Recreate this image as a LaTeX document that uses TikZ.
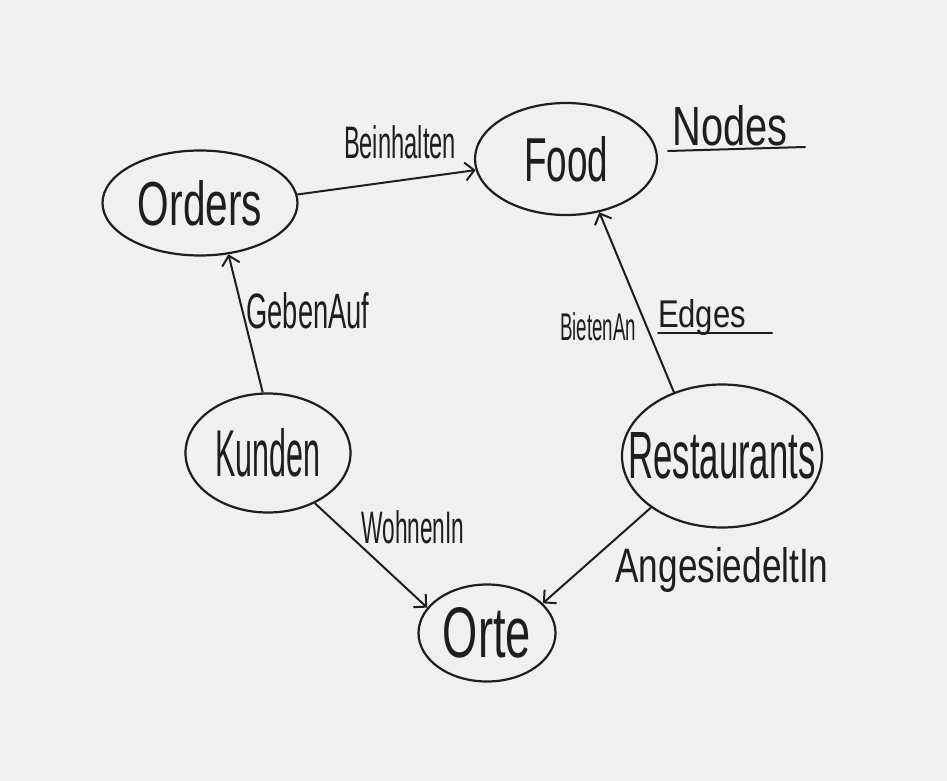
\documentclass[tikz,border=0pt]{standalone}
\usepackage{fontspec}
\usepackage{graphicx}
\setmainfont{Liberation Sans}
\usetikzlibrary{shapes.geometric,arrows.meta}
\definecolor{ink}{HTML}{1E1E1E}
\definecolor{bgc}{HTML}{F0F0F0}
\newcommand{\fitwh}[3]{\resizebox{#1pt}{#2pt}{#3}}
\begin{document}
\begin{tikzpicture}[x=1pt,y=-1pt,
  ell/.style={draw=ink,line width=2.2pt,ellipse,inner sep=0pt},
  conn/.style={draw=ink,line width=2pt,-{Straight Barb[length=9pt,width=18pt,line width=2pt]}},
  lbl/.style={text=ink,inner sep=0pt},
  uline/.style={draw=ink,line width=2pt,line cap=round}
]
\fill[bgc] (0,0) rectangle (947,781);
\useasboundingbox (0,0) rectangle (947,781);

\node[ell,minimum width=195pt,minimum height=105pt] (orders) at (200,203) {};
\node[ell,minimum width=182pt,minimum height=112pt] (food) at (566,159) {};
\node[ell,minimum width=165pt,minimum height=119pt] (kunden) at (268,453) {};
\node[ell,minimum width=200pt,minimum height=143pt] (rest) at (722,456) {};
\node[ell,minimum width=137pt,minimum height=97pt] (orte) at (487,633) {};

\node[lbl] (tOrders) at (orders) {\fitwh{124}{45}{Orders}};
\node[lbl] (tFood) at (food) {\fitwh{84}{45}{Food}};
\node[lbl] (tKunden) at (kunden) {\fitwh{105}{48}{Kunden}};
\node[lbl] (tRest) at (rest) {\fitwh{187}{46}{Restaurants}};
\node[lbl] (tOrte) at (orte) {\fitwh{88}{50}{Orte}};

\draw[conn] (orders.5) -- (food.-173);
\draw[conn] (kunden.95) -- (orders.-61);
\draw[conn] (rest.127) -- (food.-58);
\draw[conn] (kunden.-47) -- (orte.157);
\draw[conn] (rest.-144) -- (orte.28);

\node[lbl] (l1) at (400,142) {\fitwh{112}{33}{Beinhalten}};
\node[lbl] (l2) at (308,311) {\fitwh{123}{36}{GebenAuf}};
\node[lbl] (l3) at (598,327) {\fitwh{76}{28}{BietenAn}};
\node[lbl] (l4) at (413,527) {\fitwh{103}{33}{WohnenIn}};
\node[lbl] (l5) at (722,570) {\fitwh{213}{35}{AngesiedeltIn}};

\node[lbl] (nodes) at (730,126) {\fitwh{115}{40}{Nodes}};
\coordinate (n1) at (668,151);
\coordinate (n2) at (805,147);
\draw[uline] (n1) -- (n2);
\node[lbl] (edges) at (702,318) {\fitwh{88}{28}{Edges}};
\coordinate (e1) at (658,333);
\coordinate (e2) at (772,333);
\draw[uline] (e1) -- (e2);
\end{tikzpicture}
\end{document}
